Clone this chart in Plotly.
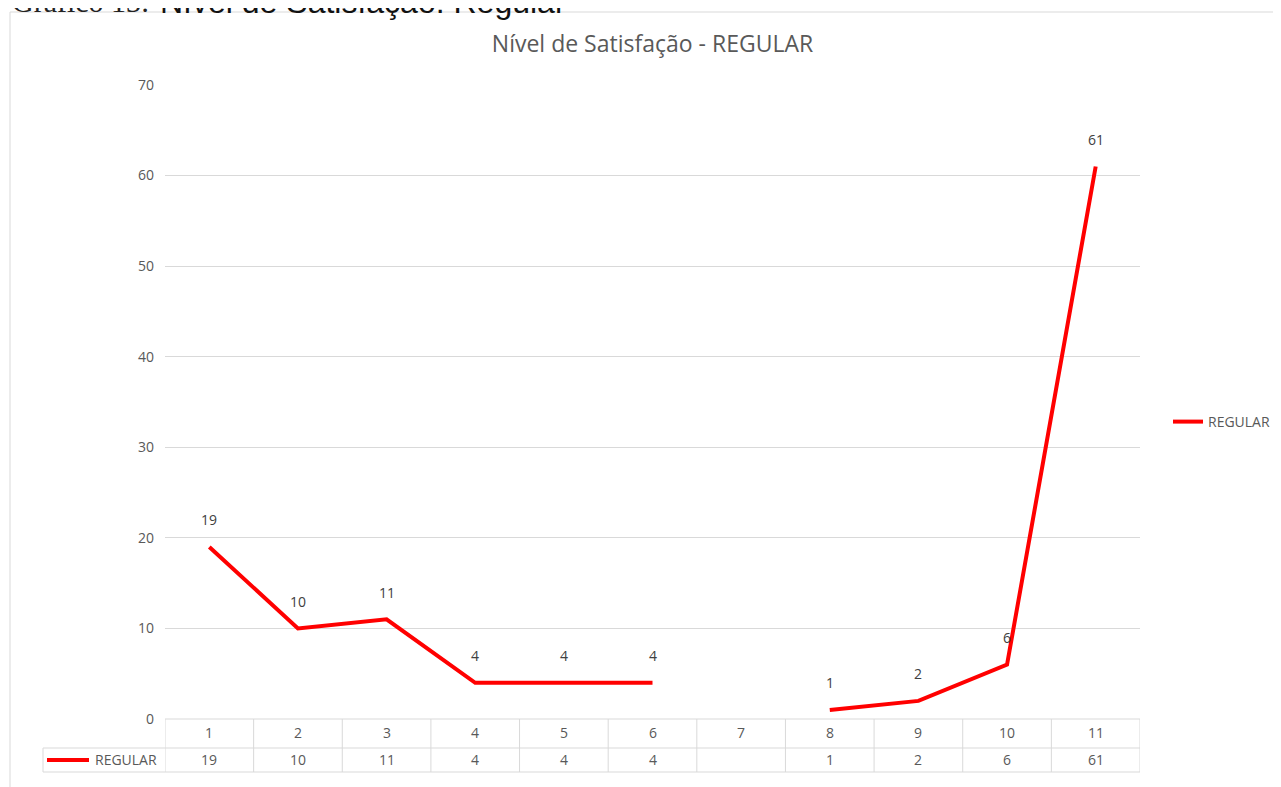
import plotly.graph_objects as go

# chart data
categories = [1, 2, 3, 4, 5, 6, 7, 8, 9, 10, 11]
regular = [19, 10, 11, 4, 4, 4, None, 1, 2, 6, 61]
y_ticks = [0, 10, 20, 30, 40, 50, 60, 70]

series_name = "REGULAR"
chart_title = "Nível de Satisfação - REGULAR"

OFF = 8  # page body margin of the html output
W, H = 1281 - OFF, 787 - OFF
L, R, T, B = 165 - OFF, 141, 85 - OFF, 68
PLOT_H = H - T - B
TXT = "#595959"
GRID = "#d9d9d9"
FONT = "Open Sans"


def py(page_y):
    """page pixel row -> paper y"""
    return (H - B - (page_y - OFF)) / PLOT_H


def px(page_x):
    """page pixel column -> paper x"""
    return (page_x - OFF - L) / (W - L - R)


fig = go.Figure()
fig.add_trace(go.Scatter(
    x=categories, y=regular, mode="lines", name=series_name,
    line=dict(color="#ff0000", width=4), connectgaps=False,
))

annotations = []
# data labels above points
for c, v in zip(categories, regular):
    if v is None:
        continue
    annotations.append(dict(x=c, y=v, text=str(v), showarrow=False, yshift=27, yanchor="middle",
                            font=dict(size=14, color="#404040", family=FONT)))

# data table below the axis
for c, v in zip(categories, regular):
    annotations.append(dict(x=c, y=py(732), yref="paper", text=str(c), showarrow=False,
                            yanchor="middle", font=dict(size=14, color=TXT, family=FONT)))
    annotations.append(dict(x=c, y=py(759), yref="paper", text="" if v is None else str(v),
                            showarrow=False, yanchor="middle",
                            font=dict(size=14, color=TXT, family=FONT)))
annotations.append(dict(x=px(93), y=py(759), xref="paper", yref="paper", xanchor="left",
                        yanchor="middle", text=series_name, showarrow=False,
                        font=dict(size=14, color=TXT, family=FONT)))

# cut-off caption at the very top
annotations.append(dict(x=px(10), y=py(2), xref="paper", yref="paper", xanchor="left",
                        yanchor="middle", text="Gráfico 13:", showarrow=False,
                        font=dict(size=30, color="#222222", family="Liberation Serif")))
annotations.append(dict(x=px(158), y=py(2), xref="paper", yref="paper", xanchor="left",
                        yanchor="middle", text="Nível de Satisfação: Regular", showarrow=False,
                        font=dict(size=32, color="#111111", family="Liberation Sans")))

shapes = []
line_style = dict(color=GRID, width=1)
# table horizontal rules
shapes.append(dict(type="line", xref="paper", yref="paper", x0=0, x1=1, y0=py(719), y1=py(719), line=line_style))
for yy in (748, 772):
    shapes.append(dict(type="line", xref="paper", yref="paper", x0=px(43), x1=1, y0=py(yy), y1=py(yy), line=line_style))
# table verticals at category boundaries
for c in categories + [0]:
    shapes.append(dict(type="line", xref="x", yref="paper", x0=c + 0.5, x1=c + 0.5,
                       y0=py(719), y1=py(772), line=line_style))
shapes.append(dict(type="line", xref="paper", yref="paper", x0=px(43), x1=px(43),
                   y0=py(748), y1=py(772), line=line_style))
# legend key inside the table
shapes.append(dict(type="line", xref="paper", yref="paper", x0=px(47), x1=px(89),
                   y0=py(760), y1=py(760), line=dict(color="#ff0000", width=4)))
# outer chart frame
shapes.append(dict(type="line", xref="paper", yref="paper", x0=px(10), x1=px(1281),
                   y0=py(12), y1=py(12), line=line_style))
shapes.append(dict(type="line", xref="paper", yref="paper", x0=px(10), x1=px(10),
                   y0=py(12), y1=py(787), line=line_style))

fig.update_layout(
    width=W, height=H,
    margin=dict(l=L, r=R, t=T, b=B, autoexpand=False),
    paper_bgcolor="white", plot_bgcolor="white",
    title=dict(text=chart_title, x=0.5, xref="paper", y=1 - (44 - OFF) / H, yanchor="middle",
               font=dict(size=23, color=TXT, family=FONT)),
    xaxis=dict(range=[0.5, 11.5], showticklabels=False, showgrid=False, zeroline=False,
               fixedrange=True),
    yaxis=dict(range=[0, 70], tickvals=y_ticks, showgrid=True, gridcolor=GRID, gridwidth=1,
               zeroline=False, ticks="", ticklabelstandoff=10,
               tickfont=dict(size=14, color=TXT, family=FONT)),
    showlegend=True,
    legend=dict(x=px(1168), y=py(422), xanchor="left", yanchor="middle",
                font=dict(size=14, color=TXT, family=FONT), bgcolor="rgba(0,0,0,0)"),
    annotations=annotations,
    shapes=shapes,
)

fig.write_html("out.html")
